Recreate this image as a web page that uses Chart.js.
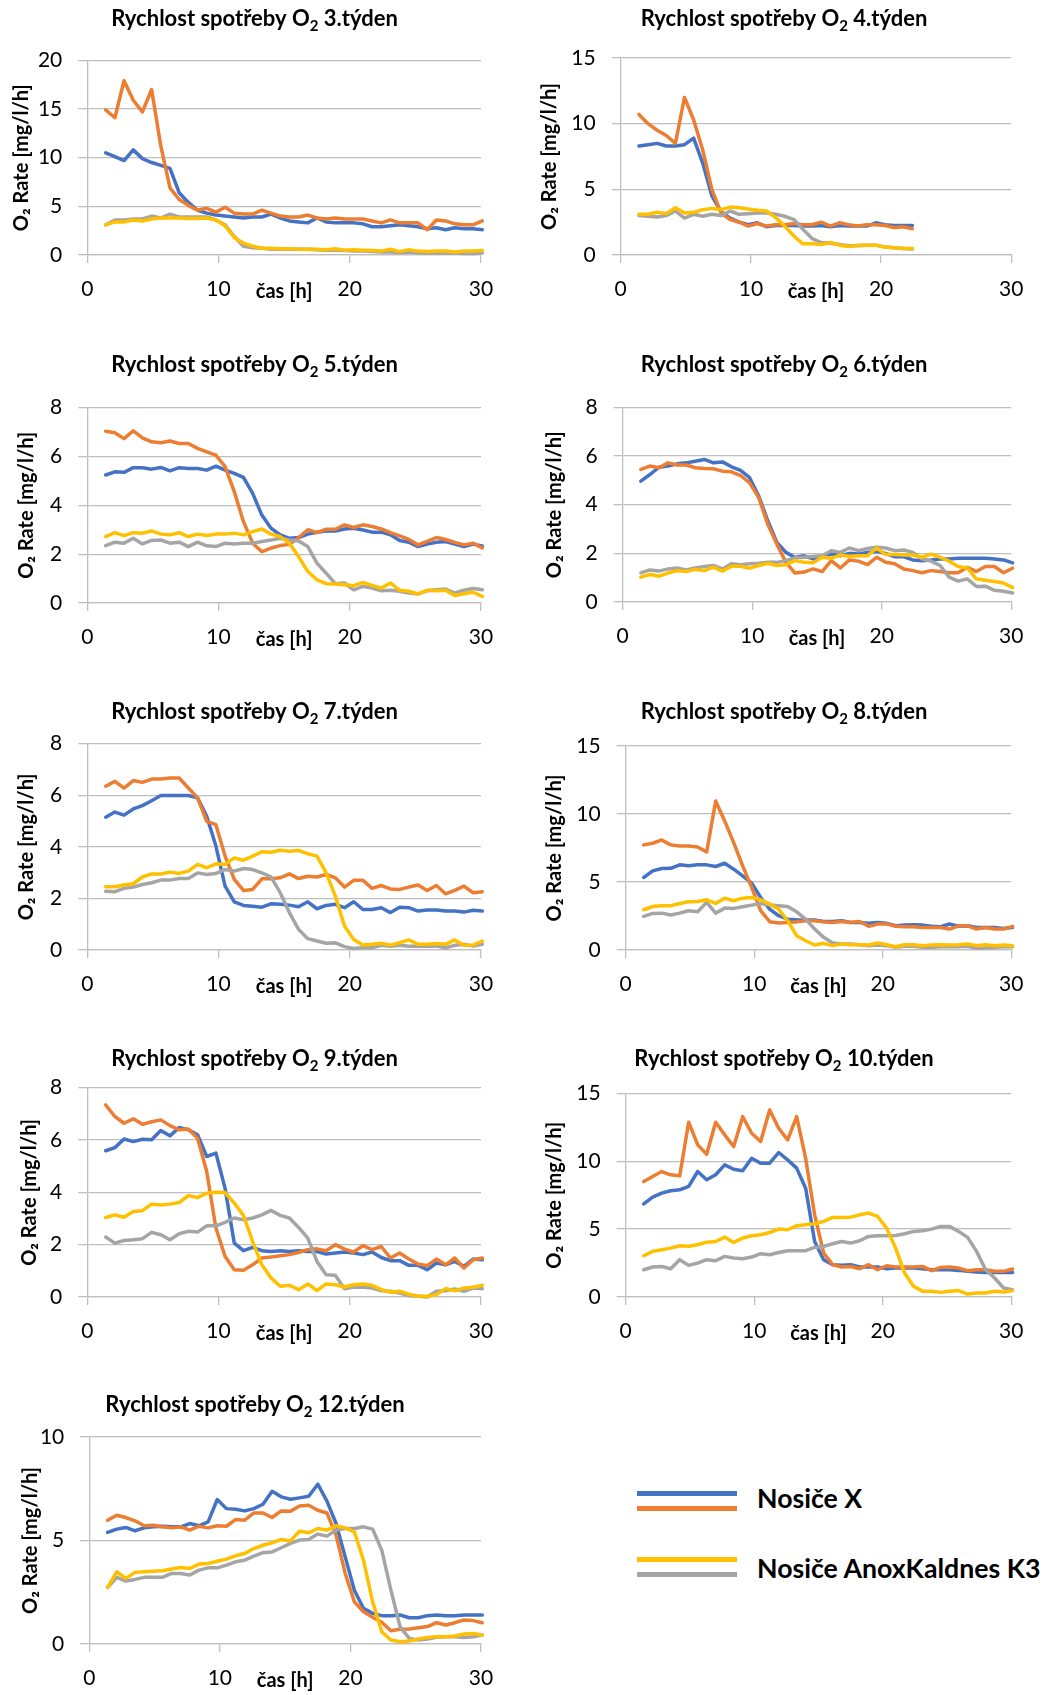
<!DOCTYPE html>
<html>
<head>
<meta charset="utf-8">
<script src="https://cdn.jsdelivr.net/npm/chart.js@4.4.1/dist/chart.umd.min.js"></script>
<style>
  body { margin: 0; background: #fff; width: 1043px; height: 1695px; position: relative; overflow: hidden; font-family: Lato, sans-serif; }
  canvas { position: absolute; }
  .legend-line { position: absolute; left: 637px; width: 100px; height: 5px; }
  .legend-text { position: absolute; left: 757px; font-weight: bold; font-size: 26.7px; line-height: 30px; color: #000; white-space: nowrap; }
</style>
</head>
<body>
<div class="legend-line" style="top:1491px;background:#4472C4"></div>
<div class="legend-line" style="top:1506px;background:#ED7D31"></div>
<div class="legend-line" style="top:1557px;background:#FFC000"></div>
<div class="legend-line" style="top:1572px;background:#A5A5A5"></div>
<div class="legend-text" style="top:1483px">Nosiče X</div>
<div class="legend-text" style="top:1553px">Nosiče AnoxKaldnes K3</div>
<script>
// sampling times [h]
const hours = [1.4, 2.1, 2.8, 3.5, 4.2, 4.9, 5.6, 6.3, 7.0, 7.7, 8.4, 9.1, 9.8, 10.5, 11.2, 11.9, 12.6, 13.3, 14.0, 14.7, 15.4,
  16.1, 16.8, 17.5, 18.2, 18.9, 19.6, 20.3, 21.0, 21.7, 22.4, 23.1, 23.8, 24.5, 25.2, 25.9, 26.6, 27.3, 28.0, 28.7, 29.4, 30.1];

// 3. týden
const w3Blue = [10.5,10.1,9.7,10.8,9.9,9.5,9.2,8.9,6.4,5.4,4.6,4.3,4.1,4.0,3.9,3.8,3.9,3.9,4.2,3.8,3.5,3.4,3.3,3.8,3.4,3.3,3.3,3.3,3.2,2.9,2.9,3.0,3.1,3.0,2.9,2.7,2.8,2.6,2.8,2.7,2.7,2.6];
const w3Orange = [14.9,14.1,17.9,15.9,14.7,17.0,11.2,6.9,5.7,5.1,4.6,4.8,4.4,4.9,4.3,4.2,4.2,4.6,4.3,4.0,3.9,3.9,4.1,3.8,3.7,3.8,3.7,3.7,3.7,3.5,3.3,3.6,3.3,3.3,3.3,2.6,3.6,3.5,3.2,3.1,3.1,3.5];
const w3Gray = [3.1,3.6,3.6,3.7,3.7,4.0,3.8,4.2,3.9,3.9,3.9,3.9,3.6,3.1,1.9,0.9,0.75,0.7,0.6,0.6,0.6,0.6,0.6,0.55,0.5,0.5,0.45,0.4,0.4,0.35,0.3,0.3,0.25,0.3,0.2,0.2,0.2,0.2,0.2,0.15,0.15,0.2];
const w3Yellow = [3.1,3.4,3.4,3.6,3.5,3.7,3.8,3.8,3.8,3.75,3.75,3.8,3.6,3.0,1.8,1.2,0.9,0.7,0.7,0.65,0.65,0.6,0.6,0.6,0.55,0.65,0.5,0.55,0.5,0.45,0.4,0.6,0.35,0.55,0.4,0.35,0.4,0.4,0.3,0.4,0.4,0.45];

// 4. týden (measured only up to 22.4 h)
const w4Blue = [8.3,8.4,8.5,8.3,8.3,8.4,8.9,7.0,4.5,3.3,2.8,2.5,2.3,2.45,2.15,2.25,2.25,2.25,2.2,2.2,2.25,2.15,2.25,2.2,2.2,2.2,2.45,2.3,2.25,2.25,2.25];
const w4Orange = [10.7,10.0,9.5,9.1,8.5,12.0,10.3,8.0,5.0,3.2,2.7,2.5,2.2,2.4,2.2,2.3,2.3,2.4,2.3,2.3,2.5,2.2,2.45,2.3,2.2,2.3,2.3,2.25,2.1,2.15,2.0];
const w4Gray = [3.0,2.95,2.9,3.0,3.35,2.8,3.1,2.95,3.1,3.0,3.35,3.1,3.15,3.2,3.2,3.1,2.95,2.7,1.95,1.25,0.95,0.9,0.8,0.7,0.7,0.75,0.75,0.6,0.55,0.5,0.45];
const w4Yellow = [3.1,3.1,3.25,3.15,3.6,3.2,3.25,3.45,3.55,3.45,3.65,3.6,3.5,3.4,3.35,2.85,2.2,1.45,0.85,0.85,0.8,0.95,0.75,0.65,0.75,0.75,0.75,0.6,0.55,0.5,0.5];

// 5. týden
const w5Blue = [5.24,5.37,5.35,5.54,5.54,5.48,5.55,5.41,5.54,5.51,5.51,5.44,5.6,5.44,5.31,5.14,4.49,3.6,3.06,2.79,2.65,2.68,2.82,2.9,2.95,2.95,3.03,3.06,2.99,2.9,2.9,2.79,2.56,2.49,2.31,2.41,2.49,2.52,2.41,2.31,2.41,2.34];
const w5Orange = [7.03,6.97,6.73,7.05,6.76,6.6,6.56,6.63,6.53,6.53,6.33,6.19,6.05,5.58,4.56,3.33,2.45,2.1,2.25,2.35,2.4,2.68,3.0,2.88,3.02,3.02,3.2,3.09,3.2,3.13,3.03,2.88,2.75,2.6,2.38,2.52,2.68,2.6,2.48,2.38,2.45,2.25];
const w5Gray = [2.35,2.49,2.45,2.65,2.42,2.56,2.58,2.45,2.49,2.31,2.49,2.34,2.31,2.45,2.42,2.45,2.45,2.52,2.58,2.65,2.58,2.54,2.31,1.63,1.22,0.79,0.82,0.54,0.68,0.61,0.5,0.52,0.48,0.41,0.37,0.5,0.54,0.57,0.41,0.52,0.59,0.54];
const w5Yellow = [2.72,2.88,2.76,2.88,2.86,2.95,2.82,2.79,2.88,2.72,2.82,2.76,2.82,2.82,2.86,2.79,2.92,3.03,2.82,2.72,2.45,1.9,1.29,0.95,0.79,0.78,0.75,0.71,0.84,0.72,0.61,0.82,0.52,0.48,0.37,0.52,0.5,0.52,0.31,0.38,0.44,0.27];

// 6. týden
const w6Blue = [4.97,5.24,5.54,5.59,5.68,5.72,5.79,5.86,5.72,5.76,5.56,5.41,5.11,4.36,3.34,2.45,2.04,1.83,1.9,1.77,1.86,1.97,1.9,2.0,1.97,2.04,2.08,2.0,1.86,1.86,1.73,1.7,1.73,1.77,1.77,1.8,1.8,1.8,1.8,1.77,1.73,1.61];
const w6Orange = [5.45,5.59,5.52,5.72,5.63,5.63,5.52,5.49,5.48,5.38,5.35,5.2,4.9,4.29,3.2,2.38,1.63,1.19,1.23,1.36,1.25,1.7,1.4,1.73,1.68,1.54,1.84,1.63,1.57,1.36,1.29,1.2,1.29,1.25,1.2,1.2,1.43,1.25,1.46,1.46,1.2,1.39];
const w6Gray = [1.2,1.32,1.27,1.36,1.4,1.32,1.4,1.46,1.5,1.36,1.57,1.53,1.57,1.59,1.63,1.63,1.7,1.81,1.84,1.87,1.9,2.11,2.04,2.22,2.11,2.2,2.25,2.22,2.11,2.14,2.04,1.77,1.68,1.5,1.02,0.86,0.95,0.64,0.65,0.48,0.44,0.37];
const w6Yellow = [1.02,1.13,1.06,1.19,1.29,1.25,1.34,1.29,1.43,1.27,1.47,1.47,1.39,1.5,1.59,1.5,1.53,1.7,1.63,1.61,1.84,1.8,1.93,1.88,1.9,1.9,2.22,1.95,1.95,1.93,1.93,1.84,1.97,1.84,1.68,1.46,1.4,0.95,0.89,0.84,0.78,0.59];

// 7. týden
const w7Blue = [5.15,5.35,5.23,5.47,5.6,5.79,5.99,5.99,5.99,5.99,5.9,5.19,4.03,2.48,1.87,1.73,1.7,1.66,1.79,1.77,1.74,1.68,1.87,1.6,1.73,1.77,1.64,1.87,1.57,1.57,1.64,1.45,1.66,1.64,1.51,1.55,1.55,1.51,1.51,1.47,1.54,1.51];
const w7Orange = [6.35,6.54,6.28,6.57,6.5,6.63,6.63,6.67,6.67,6.28,5.9,4.99,4.86,3.64,2.74,2.31,2.35,2.76,2.76,2.8,2.95,2.77,2.86,2.83,2.93,2.8,2.44,2.7,2.7,2.39,2.5,2.37,2.35,2.44,2.52,2.31,2.5,2.18,2.31,2.48,2.22,2.26];
const w7Gray = [2.28,2.26,2.39,2.44,2.54,2.61,2.71,2.71,2.77,2.77,2.99,2.93,2.97,3.12,3.06,3.16,3.12,2.99,2.84,2.22,1.45,0.8,0.44,0.35,0.26,0.28,0.13,0.06,0.09,0.09,0.18,0.15,0.18,0.15,0.15,0.15,0.15,0.09,0.18,0.22,0.15,0.22];
const w7Yellow = [2.45,2.45,2.52,2.57,2.83,2.95,2.95,3.02,2.97,3.06,3.32,3.19,3.34,3.32,3.57,3.48,3.64,3.81,3.79,3.87,3.83,3.86,3.73,3.64,2.99,2.09,0.93,0.41,0.19,0.22,0.26,0.19,0.28,0.39,0.22,0.22,0.25,0.22,0.39,0.18,0.19,0.35];

// 8. týden
const w8Blue = [5.33,5.82,5.99,6.01,6.26,6.19,6.26,6.26,6.14,6.38,5.94,5.45,4.91,3.86,3.01,2.52,2.27,2.22,2.2,2.2,2.1,2.1,2.15,2.03,2.03,1.96,2.03,1.96,1.78,1.83,1.86,1.83,1.74,1.71,1.91,1.74,1.78,1.66,1.66,1.66,1.59,1.66];
const w8Orange = [7.73,7.85,8.09,7.73,7.65,7.65,7.58,7.21,10.95,9.49,7.9,6.19,4.6,2.89,2.08,1.98,2.03,2.08,2.15,2.15,2.08,2.03,2.1,2.03,2.1,1.74,1.91,1.91,1.74,1.71,1.71,1.66,1.66,1.66,1.54,1.78,1.78,1.54,1.66,1.54,1.54,1.74];
const w8Gray = [2.47,2.69,2.71,2.57,2.71,2.89,2.81,3.5,2.71,3.08,3.06,3.18,3.3,3.42,3.3,3.25,3.2,2.81,2.27,1.54,0.93,0.51,0.44,0.44,0.39,0.32,0.37,0.32,0.2,0.27,0.27,0.2,0.2,0.24,0.24,0.24,0.27,0.12,0.15,0.2,0.24,0.24];
const w8Yellow = [2.96,3.2,3.25,3.25,3.42,3.55,3.57,3.69,3.42,3.81,3.62,3.81,3.86,3.69,3.37,3.01,2.15,1.05,0.68,0.37,0.49,0.32,0.44,0.39,0.39,0.37,0.51,0.39,0.24,0.39,0.39,0.32,0.37,0.39,0.37,0.39,0.44,0.32,0.39,0.32,0.37,0.32];

// 9. týden
const w9Blue = [5.59,5.71,6.04,5.94,6.03,6.01,6.36,6.16,6.48,6.39,6.2,5.37,5.5,4.15,2.06,1.77,1.9,1.77,1.74,1.77,1.74,1.77,1.74,1.74,1.64,1.68,1.72,1.68,1.62,1.72,1.51,1.39,1.39,1.21,1.21,1.04,1.3,1.23,1.36,1.17,1.45,1.42];
const w9Orange = [7.34,6.9,6.64,6.81,6.6,6.7,6.77,6.55,6.39,6.42,6.07,4.8,2.64,1.55,1.04,1.02,1.23,1.49,1.53,1.58,1.62,1.7,1.81,1.84,1.77,2.0,1.83,1.72,1.96,1.81,1.93,1.49,1.68,1.45,1.26,1.2,1.45,1.23,1.49,1.11,1.42,1.49];
const w9Gray = [2.29,2.06,2.16,2.19,2.23,2.47,2.38,2.19,2.42,2.51,2.48,2.72,2.72,2.85,3.02,2.95,3.02,3.14,3.31,3.12,3.02,2.66,2.25,1.36,0.85,0.83,0.31,0.38,0.37,0.34,0.24,0.22,0.15,0.06,0.03,0.0,0.22,0.24,0.31,0.22,0.34,0.32];
const w9Yellow = [3.04,3.14,3.05,3.27,3.3,3.55,3.52,3.55,3.61,3.88,3.8,3.97,4.0,3.99,3.59,3.12,2.12,1.23,0.73,0.41,0.45,0.28,0.5,0.25,0.5,0.47,0.38,0.47,0.5,0.45,0.28,0.18,0.22,0.11,0.03,0.03,0.09,0.32,0.24,0.34,0.37,0.45];

// 10. týden
const w10Blue = [6.86,7.35,7.65,7.82,7.89,8.14,9.24,8.63,9.0,9.73,9.41,9.29,10.22,9.85,9.85,10.64,10.1,9.49,8.01,4.09,2.75,2.38,2.33,2.38,2.21,2.21,2.21,2.08,2.13,2.13,2.13,2.08,2.01,2.01,2.01,1.96,1.89,1.84,1.81,1.81,1.81,1.81];
const w10Orange = [8.5,8.87,9.24,9.0,8.92,12.87,11.2,10.51,12.87,11.94,11.08,13.28,12.06,11.45,13.77,12.43,11.57,13.28,10.22,6.05,3.24,2.38,2.21,2.25,2.08,2.38,2.01,2.3,2.21,2.21,2.21,2.25,1.94,2.18,2.21,2.13,1.94,2.01,2.01,1.89,1.89,2.06];
const w10Gray = [2.01,2.21,2.25,2.08,2.75,2.33,2.5,2.75,2.67,2.99,2.87,2.82,2.94,3.19,3.11,3.28,3.41,3.41,3.41,3.65,3.73,3.92,4.09,3.97,4.14,4.46,4.51,4.51,4.53,4.66,4.83,4.88,5.0,5.2,5.2,4.83,4.39,3.36,2.01,1.4,0.66,0.54];
const w10Yellow = [3.04,3.36,3.48,3.6,3.77,3.73,3.85,4.04,4.09,4.41,4.02,4.34,4.51,4.58,4.75,5.0,4.95,5.25,5.32,5.39,5.56,5.86,5.86,5.88,6.05,6.18,5.93,5.07,3.6,1.76,0.78,0.42,0.42,0.34,0.42,0.47,0.22,0.29,0.29,0.42,0.37,0.47];

// 12. týden
const w12Blue = [5.39,5.55,5.63,5.47,5.61,5.66,5.69,5.66,5.66,5.82,5.71,5.9,6.98,6.54,6.51,6.43,6.54,6.75,7.38,7.11,6.99,7.06,7.14,7.72,6.9,5.82,4.21,2.6,1.72,1.48,1.37,1.37,1.4,1.27,1.27,1.37,1.4,1.37,1.37,1.4,1.4,1.4];
const w12Orange = [5.98,6.22,6.11,5.95,5.71,5.74,5.66,5.61,5.66,5.5,5.69,5.61,5.71,5.69,6.01,5.98,6.33,6.33,6.11,6.43,6.41,6.67,6.7,6.46,6.33,5.26,3.41,2.04,1.56,1.29,1.05,0.64,0.71,0.72,0.79,0.84,1.03,0.92,1.03,1.16,1.13,1.03];
const w12Gray = [2.73,3.22,3.04,3.12,3.22,3.22,3.22,3.41,3.41,3.33,3.57,3.68,3.68,3.81,3.97,4.05,4.24,4.41,4.45,4.65,4.86,5.02,5.05,5.31,5.21,5.5,5.58,5.58,5.66,5.55,4.53,2.6,0.84,0.27,0.19,0.24,0.32,0.35,0.35,0.31,0.35,0.43];
const w12Yellow = [2.73,3.49,3.17,3.46,3.49,3.52,3.54,3.62,3.7,3.65,3.86,3.89,4.0,4.1,4.26,4.37,4.61,4.77,4.89,5.05,4.98,5.45,5.37,5.58,5.5,5.71,5.61,5.42,4.05,2.04,0.59,0.19,0.11,0.14,0.24,0.32,0.35,0.35,0.39,0.48,0.51,0.43];

const seriesColors = ['#4472C4', '#ED7D31', '#A5A5A5', '#FFC000'];
const seriesNames = ['Nosiče X (1)', 'Nosiče X (2)', 'Nosiče AnoxKaldnes K3 (1)', 'Nosiče AnoxKaldnes K3 (2)'];
const GRID = '#BFBFBF';
const FONT = 'Lato';
const AXIS_TITLE_SIZE = 20;

// layout of the nine panels (page pixels): canvas left, title, plot area [left, top, right, bottom]
const panels = [
  { title: 'Rychlost spotřeby O₂ 3.týden',  series: [w3Blue, w3Orange, w3Gray, w3Yellow],   yMax: 20, yStep: 5, left: 0,   titleX: 254.5, titleBase: 26,     area: [87.3, 60.3, 481, 255.7],     yTitleX: 22 },
  { title: 'Rychlost spotřeby O₂ 4.týden',  series: [w4Blue, w4Orange, w4Gray, w4Yellow],   yMax: 15, yStep: 5, left: 525, titleX: 784,   titleBase: 26,     area: [620.7, 58, 1011.3, 255.7],   yTitleX: 550 },
  { title: 'Rychlost spotřeby O₂ 5.týden',  series: [w5Blue, w5Orange, w5Gray, w5Yellow],   yMax: 8,  yStep: 2, left: 0,   titleX: 254.5, titleBase: 371.7,  area: [87.3, 407.3, 481, 603.3],    yTitleX: 26.5 },
  { title: 'Rychlost spotřeby O₂ 6.týden',  series: [w6Blue, w6Orange, w6Gray, w6Yellow],   yMax: 8,  yStep: 2, left: 525, titleX: 784,   titleBase: 372.3,  area: [622.7, 407.7, 1011.3, 603.3], yTitleX: 555 },
  { title: 'Rychlost spotřeby O₂ 7.týden',  series: [w7Blue, w7Orange, w7Gray, w7Yellow],   yMax: 8,  yStep: 2, left: 0,   titleX: 254.5, titleBase: 719.3,  area: [87.3, 744, 481, 950.7],      yTitleX: 26.5 },
  { title: 'Rychlost spotřeby O₂ 8.týden',  series: [w8Blue, w8Orange, w8Gray, w8Yellow],   yMax: 15, yStep: 5, left: 525, titleX: 784,   titleBase: 719.3,  area: [625.7, 746.3, 1011.3, 951],  yTitleX: 555 },
  { title: 'Rychlost spotřeby O₂ 9.týden',  series: [w9Blue, w9Orange, w9Gray, w9Yellow],   yMax: 8,  yStep: 2, left: 0,   titleX: 254.5, titleBase: 1066,   area: [87.3, 1087.7, 481, 1297.3],  yTitleX: 29.5 },
  { title: 'Rychlost spotřeby O₂ 10.týden', series: [w10Blue, w10Orange, w10Gray, w10Yellow], yMax: 15, yStep: 5, left: 525, titleX: 784,   titleBase: 1066,   area: [625.7, 1093.3, 1011.3, 1297.3], yTitleX: 555 },
  { title: 'Rychlost spotřeby O₂ 12.týden', series: [w12Blue, w12Orange, w12Gray, w12Yellow], yMax: 10, yStep: 5, left: 0,   titleX: 255,   titleBase: 1411.7, area: [89.3, 1436.7, 481, 1644],    yTitleX: 31 }
];

// draws the panel title with a real subscript 2
const panelTitle = {
  id: 'panelTitle',
  afterDraw(chart, args, opts) {
    const ctx = chart.ctx;
    const parts = opts.text.split('₂');
    const big = `bold ${opts.size}px ${FONT}`;
    const small = `bold ${Math.round(opts.size * 0.66)}px ${FONT}`;
    ctx.save();
    ctx.fillStyle = '#000';
    ctx.textBaseline = 'alphabetic';
    ctx.textAlign = 'left';
    ctx.font = big;
    const w1 = ctx.measureText(parts[0]).width;
    const w3 = ctx.measureText(parts[1]).width;
    ctx.font = small;
    const w2 = ctx.measureText('2').width;
    let x = opts.x - (w1 + w2 + w3) / 2;
    ctx.font = big;
    ctx.fillText(parts[0], x, opts.y);
    x += w1;
    ctx.font = small;
    ctx.fillText('2', x, opts.y + opts.size * 0.22);
    x += w2;
    ctx.font = big;
    ctx.fillText(parts[1], x, opts.y);
    ctx.restore();
  }
};

panels.forEach(function (p) {
  const [x0, yTop, x30, yBot] = p.area;
  const width = p.left === 0 ? 510 : 1043 - p.left;
  const top = p.titleBase - 28;
  const xAxisH = 50;
  const height = yBot + xAxisH - top;
  const halfLine = AXIS_TITLE_SIZE * 0.6;

  const canvas = document.createElement('canvas');
  canvas.width = width;
  canvas.height = height;
  canvas.style.left = p.left + 'px';
  canvas.style.top = top + 'px';
  document.body.appendChild(canvas);

  const datasets = p.series.map(function (vals, i) {
    return {
      label: seriesNames[i],
      data: vals.map(function (v, j) { return { x: hours[j], y: v }; }),
      borderColor: seriesColors[i],
      backgroundColor: seriesColors[i],
      borderWidth: 3.5,
      pointRadius: 0,
      tension: 0,
      borderJoinStyle: 'round',
      borderCapStyle: 'round',
      clip: false,
      order: 4 - i
    };
  });

  new Chart(canvas.getContext('2d'), {
    type: 'line',
    data: { datasets: datasets },
    plugins: [panelTitle],
    options: {
      responsive: false,
      animation: false,
      layout: { padding: { left: 0, top: yTop - top, right: p.left + width - x30, bottom: 0 } },
      plugins: {
        legend: { display: false },
        tooltip: { enabled: false },
        panelTitle: { text: p.title, x: p.titleX - p.left, y: p.titleBase - top, size: 22 }
      },
      scales: {
        x: {
          type: 'linear',
          min: 0,
          max: 30,
          afterFit: function (scale) { scale.height = xAxisH; },
          grid: { drawOnChartArea: false, drawTicks: true, tickLength: 8, color: GRID, lineWidth: 1.3 },
          border: { display: true, color: GRID, width: 1.3 },
          ticks: { stepSize: 10, padding: 14, maxRotation: 0, color: '#000', font: { family: FONT, size: 21 } },
          title: {
            display: true,
            text: 'čas [h]',
            color: '#000',
            font: { family: FONT, size: AXIS_TITLE_SIZE, weight: 'bold' },
            padding: { top: 0, bottom: 13 - halfLine }
          }
        },
        y: {
          min: 0,
          max: p.yMax,
          afterFit: function (scale) { scale.width = x0 - p.left; },
          grid: { drawTicks: true, tickLength: 9, color: GRID, lineWidth: 1.3 },
          border: { display: true, color: GRID, width: 1.3 },
          ticks: { stepSize: p.yStep, padding: 16, color: '#000', font: { family: FONT, size: 21 } },
          title: {
            display: true,
            text: 'O₂ Rate [mg/l/h]',
            color: '#000',
            font: { family: FONT, size: AXIS_TITLE_SIZE, weight: 'bold' },
            padding: { top: p.yTitleX - p.left - halfLine, bottom: 0 }
          }
        }
      }
    }
  });
});
</script>
</body>
</html>
